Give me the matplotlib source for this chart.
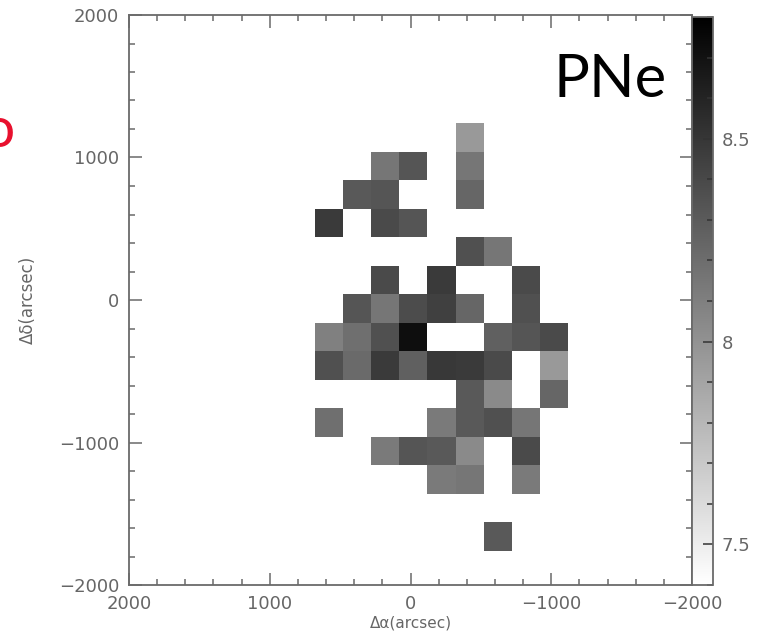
import numpy as np
import matplotlib
matplotlib.use('Agg')
import matplotlib.pyplot as plt
from matplotlib.ticker import MultipleLocator

# bin centres (arcsec), RA decreasing to the right, Dec top to bottom
ra_centers = [580, 380, 180, -20, -220, -420, -620, -820, -1020]
dec_centers = [1140, 940, 740, 540, 340, 140, -60, -260, -460,
               -660, -860, -1060, -1260, -1460, -1660]
bin_size = 200

# log value per bin (None = no data), one row per dec_centers entry
N = None
grid_values = [
    [N,    N,    N,    N,    N,    7.96, N,    N,    N   ],
    [N,    N,    8.15, 8.33, N,    8.15, N,    N,    N   ],
    [N,    8.31, 8.33, N,    N,    8.24, N,    N,    N   ],
    [8.48, N,    8.39, 8.33, N,    N,    N,    N,    N   ],
    [N,    N,    N,    N,    N,    8.36, 8.15, N,    N   ],
    [N,    N,    8.39, N,    8.48, N,    N,    8.39, N   ],
    [N,    8.33, 8.15, 8.38, 8.45, 8.24, N,    8.36, N   ],
    [8.10, 8.19, 8.36, 8.72, N,    N,    8.27, 8.33, 8.39],
    [8.36, 8.22, 8.48, 8.27, 8.49, 8.48, 8.39, N,    7.96],
    [N,    N,    N,    N,    N,    8.31, 8.04, N,    8.24],
    [8.19, N,    N,    N,    8.13, 8.31, 8.36, 8.15, N   ],
    [N,    N,    8.13, 8.33, 8.31, 8.04, N,    8.39, N   ],
    [N,    N,    N,    N,    8.13, 8.15, N,    8.13, N   ],
    [N,    N,    N,    N,    N,    N,    N,    N,    N   ],
    [N,    N,    N,    N,    N,    N,    8.31, N,    N   ],
]
cbar_ticks = [7.5, 8, 8.5]
vmin, vmax = 7.4, 8.8

grey = '#6a6a6a'
txt = '#666666'
plt.rcParams['font.family'] = 'DejaVu Sans'

fig = plt.figure(figsize=(7.64, 6.35), dpi=100)
ax = fig.add_axes([129/764, 50/635, 563/764, 570/635])
cax = fig.add_axes([692/764, 50/635, 21/764, 568/635])

ra = np.array(ra_centers, dtype=float)
dec = np.array(dec_centers, dtype=float)
ra_edges = np.append(ra + bin_size/2, ra[-1] - bin_size/2)
dec_edges = np.append(dec + bin_size/2, dec[-1] - bin_size/2)
vals = np.array([[np.nan if v is None else v for v in row] for row in grid_values])
vals = np.ma.masked_invalid(vals)

mesh = ax.pcolormesh(ra_edges, dec_edges, vals, cmap='gray_r',
                     vmin=vmin, vmax=vmax, shading='flat')

ax.set_xlim(2000, -2000)
ax.set_ylim(-2000, 2000)
ax.xaxis.set_major_locator(MultipleLocator(1000))
ax.xaxis.set_minor_locator(MultipleLocator(200))
ax.yaxis.set_major_locator(MultipleLocator(1000))
ax.yaxis.set_minor_locator(MultipleLocator(200))
ax.tick_params(which='both', direction='in', top=True, right=True,
               color=grey, labelcolor=txt, labelsize=13, width=1.1)
ax.tick_params(which='major', length=9, pad=7)
ax.tick_params(which='minor', length=4)
for s in ax.spines.values():
    s.set_color(grey)
    s.set_linewidth(1.3)

ax.set_xlabel('Δα(arcsec)', fontsize=11, color=txt)
ax.set_ylabel('Δδ(arcsec)', fontsize=12, color=txt)
ax.xaxis.set_label_coords(0.5, -0.053)
ax.yaxis.set_label_coords(-0.163, 0.5)

cb = fig.colorbar(mesh, cax=cax, ticks=cbar_ticks)
cb.ax.yaxis.set_minor_locator(MultipleLocator(0.1))
cb.ax.tick_params(which='both', direction='in', right=True, left=False,
                  color='#333333', labelcolor=txt, labelsize=13, width=1.1)
cb.ax.tick_params(which='major', length=7, pad=6)
cb.ax.tick_params(which='minor', length=4)
cb.outline.set_edgecolor(grey)
cb.outline.set_linewidth(1.3)
cb.ax.set_yticklabels(['7.5', '8', '8.5'])

fig.text(610/764, 1 - 80/635, 'PNe', fontsize=43, family='Lato',
         ha='center', va='center', color='black')
# red letter cut by the left edge of the slide, as in the source
fig.text(-1/764, 1 - 132/635, 'o', fontsize=41, family='Lato',
         ha='center', va='center', color='#e8102e')

fig.savefig('out.png', dpi=100)
